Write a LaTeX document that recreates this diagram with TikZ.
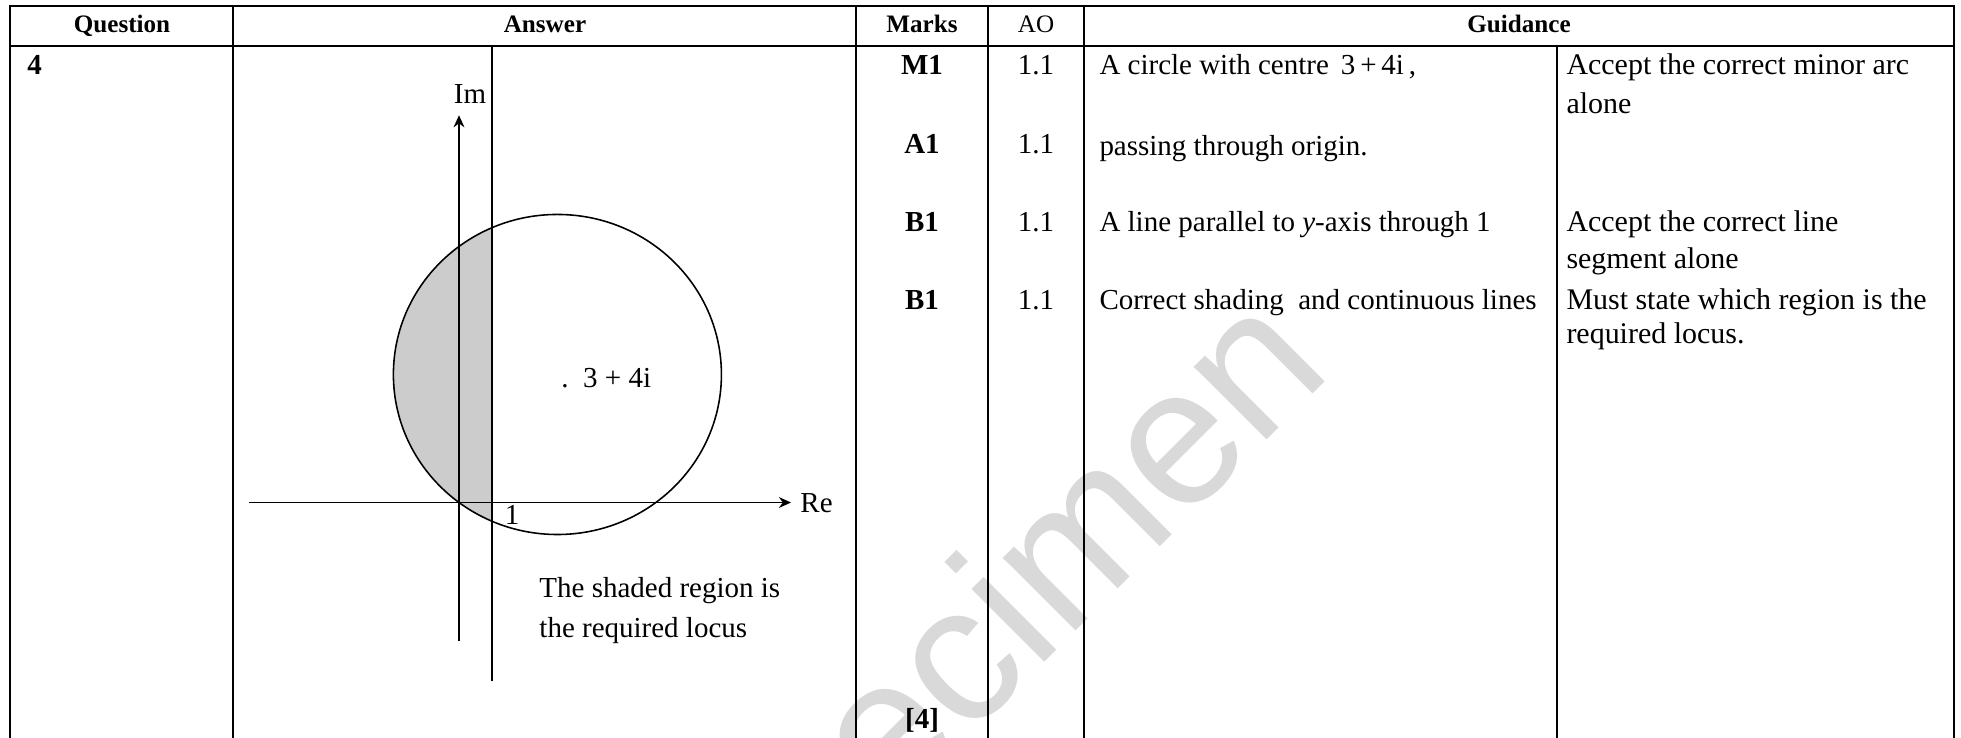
\documentclass[tikz,border=0pt]{standalone}
\usepackage{fontspec}
\setmainfont{Liberation Serif}
\newfontfamily\wmfont{Liberation Sans}
\usetikzlibrary{arrows.meta}

\begin{document}
\begin{tikzpicture}[x=0.414pt,y=-0.414pt,
    hdr/.style={font=\fontsize{10.4}{12}\selectfont\bfseries,inner sep=0pt,anchor=mid},
    cell/.style={font=\fontsize{12}{14}\selectfont,inner sep=0pt,anchor=mid west},
    note/.style={font=\fontsize{12.4}{14}\selectfont,inner sep=0pt,anchor=mid west},
    lbl/.style={font=\fontsize{12}{14}\selectfont,inner sep=0pt,anchor=mid},
    mk/.style={font=\fontsize{12}{14}\selectfont\bfseries,inner sep=0pt,anchor=mid},
    wm/.style={font=\wmfont\fontsize{80.7}{90}\selectfont,text=black!15,rotate=45,anchor=base east,inner sep=0pt},
    thickrule/.style={line width=1pt},
    thinrule/.style={line width=0.5pt},
    axis/.style={line width=0.65pt}]

          \useasboundingbox (0,0) rectangle (1961,738);

          \begin{scope}
            \clip (0,0) rectangle (1961,738);
            \node[wm] (wmark) at (1335,372) {Specimen};
          \end{scope}

          \draw[thickrule] (10,6) rectangle (1954,46);
          \foreach \x in {233,856,988,1084}
            \draw[thickrule] (\x,6) -- (\x,46);
          \foreach \x in {10,233,856,988,1084,1557,1954}
            \draw[thinrule] (\x,46) -- (\x,738);

          \node[hdr]  (hq) at (122,27)  {Question};
          \node[hdr]  (ha) at (545,27)  {Answer};
          \node[hdr]  (hm) at (922,27)  {Marks};
          \node[hdr,font=\fontsize{10.4}{12}\selectfont] (hao) at (1036,27) {AO};
          \node[hdr]  (hg) at (1519,27) {Guidance};

          \node[mk,anchor=mid west] (q) at (27,69) {4};

          \node[mk]  (m1) at (922,69)  {M1};
          \node[mk]  (m2) at (922,148) {A1};
          \node[mk]  (m3) at (922,226) {B1};
          \node[mk]  (m4) at (922,304) {B1};
          \node[mk]  (tot) at (922,723) {[4]};

          \node[lbl] (ao1) at (1036,69)  {1.1};
          \node[lbl] (ao2) at (1036,148) {1.1};
          \node[lbl] (ao3) at (1036,226) {1.1};
          \node[lbl] (ao4) at (1036,304) {1.1};

          \node[cell] (g1) at (1099,69)  {A circle with centre \,3\,+\,4i\,,};
          \node[cell] (g2) at (1099,150) {passing through origin.};
          \node[cell] (g3) at (1099,226) {A line parallel to \textit{y}-axis through 1};
          \node[cell] (g4) at (1099,304) {Correct shading\ \ and continuous lines};

          \node[note] (n1a) at (1566,69)  {Accept the correct minor arc};
          \node[note] (n1b) at (1566,108) {alone};
          \node[note] (n3a) at (1566,226) {Accept the correct line};
          \node[note] (n3b) at (1566,263) {segment alone};
          \node[note] (n4a) at (1566,304) {Must state which region is the};
          \node[note] (n4b) at (1566,338) {required locus.};

          \begin{scope}[shift={(459,502.5)}]
            \begin{scope}[x=13.58pt,y=13.25pt]
              \coordinate (imlo) at (0,-4.33);
              \coordinate (imhi) at (0,12.1);
              \coordinate (relo) at (-6.4,0);
              \coordinate (rehi) at (10.12,0);
              \coordinate (ltop) at (1,14.27);
              \coordinate (lbot) at (1,-5.58);
              \coordinate (c) at (3,4);
              \begin{scope}
                \clip (-6,-6) rectangle (1,10);
                \fill[black!20] (c) circle (5);
              \end{scope}
              \draw[axis] (c) circle (5);
              \draw[axis,-{Stealth[length=5pt,width=4.5pt]}] (imlo) -- (imhi);
              \draw[axis,-{Stealth[length=5pt,width=4.5pt]}] (relo) -- (rehi);
              \draw[axis] (lbot) -- (ltop);
            \end{scope}
          \end{scope}

          \node[lbl]  (im)   at (470,98)  {Im};
          \node[cell] (re)   at (800,507) {Re};
          \node[lbl]  (one)  at (512,519) {1};
          \node[cell] (cen)  at (561,382) {.\ \ 3 + 4i};
          \node[cell] (shd1) at (539,592) {The shaded region is};
          \node[cell] (shd2) at (539,632) {the required locus};
        \end{tikzpicture}
\end{document}
